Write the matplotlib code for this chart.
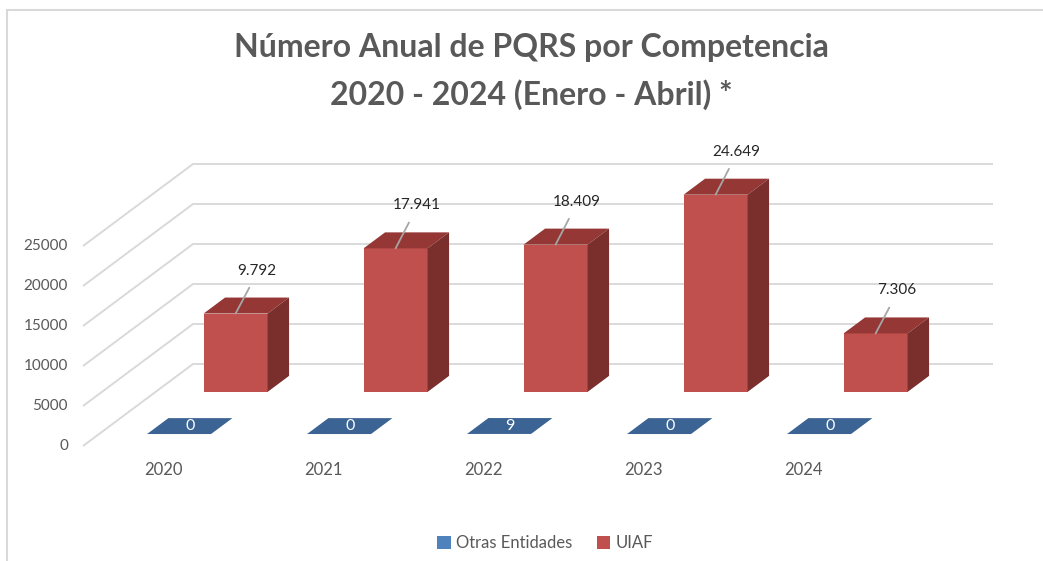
import matplotlib
matplotlib.use('Agg')
import matplotlib.pyplot as plt
from matplotlib.patches import Polygon, Patch, Rectangle

categories = ['2020', '2021', '2022', '2023', '2024']
otras = [0, 0, 9, 0, 0]
uiaf = [9792, 17941, 18409, 24649, 7306]
otras_labels = ['0', '0', '9', '0', '0']
uiaf_labels = ['9.792', '17.941', '18.409', '24.649', '7.306']
yticks = [0, 5000, 10000, 15000, 20000, 25000]
series_names = ['Otras Entidades', 'UIAF']

FONT = 'Lato'
W, H = 1043, 561
fig = plt.figure(figsize=(W / 100, H / 100), dpi=100)
ax = fig.add_axes([0, 0, 1, 1])
ax.axis('off')

# oblique projection of the 3D chart onto the axes
X0, Y0, SX, SY = 163, 446, 160, 0.008
ax.set_xlim(-X0 / SX, (W - X0) / SX)
ax.set_ylim((Y0 - H) / SY, Y0 / SY)
DX = 110 / SX
DY = 82 / SY


def P(c, v, d):
    return (c + d * DX, v + d * DY)


grid_c = '#D9D9D9'
n = len(categories)
left, right = -0.5, n - 0.5
for t in yticks:
    pts = [P(left, t, 0), P(left, t, 1), P(right, t, 1)]
    ax.plot([p[0] for p in pts], [p[1] for p in pts], color=grid_c, lw=1.4, zorder=1,
            solid_joinstyle='miter', solid_capstyle='butt')
    ax.annotate(f'{t}', xy=P(left, t, 0), xytext=(-15, 0), textcoords='offset pixels',
                ha='right', va='center', fontsize=11, color='#595959', family=FONT)

hw = 0.2
# UIAF row (back)
df, db = 0.66, 0.855
front_c, top_c, side_c = '#C0504D', '#943735', '#7B2F2D'
for i, v in enumerate(uiaf):
    ax.bar(i + df * DX, v, bottom=df * DY, width=2 * hw, color=front_c, zorder=3, linewidth=0)
    top = [P(i - hw, v, df), P(i + hw, v, df), P(i + hw, v, db), P(i - hw, v, db)]
    side = [P(i + hw, 0, df), P(i + hw, v, df), P(i + hw, v, db), P(i + hw, 0, db)]
    ax.add_patch(Polygon(top, closed=True, facecolor=top_c, edgecolor='none', zorder=3))
    ax.add_patch(Polygon(side, closed=True, facecolor=side_c, edgecolor='none', zorder=3))
    ax.annotate(uiaf_labels[i], xy=P(i, v, df), xytext=(21, 43), textcoords='offset pixels',
                ha='center', va='center', fontsize=11, color='#262626', family=FONT, zorder=5,
                arrowprops=dict(arrowstyle='-', color='#A6A6A6', lw=1.3, shrinkA=6, shrinkB=0,
                                relpos=(0.45, 0.0)))

# Otras Entidades row (front)
df2, db2 = 0.146, 0.34
otras_c = '#3B6494'
for i, v in enumerate(otras):
    top = [P(i - hw, v, df2), P(i + hw, v, df2), P(i + hw, v, db2), P(i - hw, v, db2)]
    ax.add_patch(Polygon(top, closed=True, facecolor=otras_c, edgecolor='none', zorder=4))
    ax.annotate(otras_labels[i], xy=P(i, v, (df2 + db2) / 2), xytext=(0, 0),
                textcoords='offset pixels', ha='center', va='center', fontsize=11.5,
                color='white', family=FONT, zorder=5)

for i, c in enumerate(categories):
    ax.annotate(c, xy=P(i, 0, 0), xytext=(0, -24), textcoords='offset pixels',
                ha='center', va='center', fontsize=12, color='#595959', family=FONT)

# title
fig.text(531 / W, 1 - 48 / H, 'Número Anual de PQRS por Competencia', ha='center', va='center',
         fontsize=23, fontweight='bold', color='#595959', family=FONT)
fig.text(531 / W, 1 - 95 / H, '2020 - 2024 (Enero - Abril) *', ha='center', va='center',
         fontsize=23, fontweight='bold', color='#595959', family=FONT)

# legend
handles = [Patch(facecolor='#4F81BD', edgecolor='none'), Patch(facecolor=front_c, edgecolor='none')]
fig.legend(handles, series_names, loc='center', bbox_to_anchor=(545 / W, 1 - 543 / H), ncol=2,
           frameon=False, handlelength=0.8, handleheight=0.8, handletextpad=0.3, columnspacing=1.5,
           prop={'family': FONT, 'size': 12}, labelcolor='#595959')

# chart area border
fig.add_artist(Rectangle((7 / W, -0.1), 1.2, 1 - 10 / H + 0.1, transform=fig.transFigure,
                         facecolor='none', edgecolor='#D9D9D9', lw=1.5))

fig.savefig('out.png', dpi=100)
